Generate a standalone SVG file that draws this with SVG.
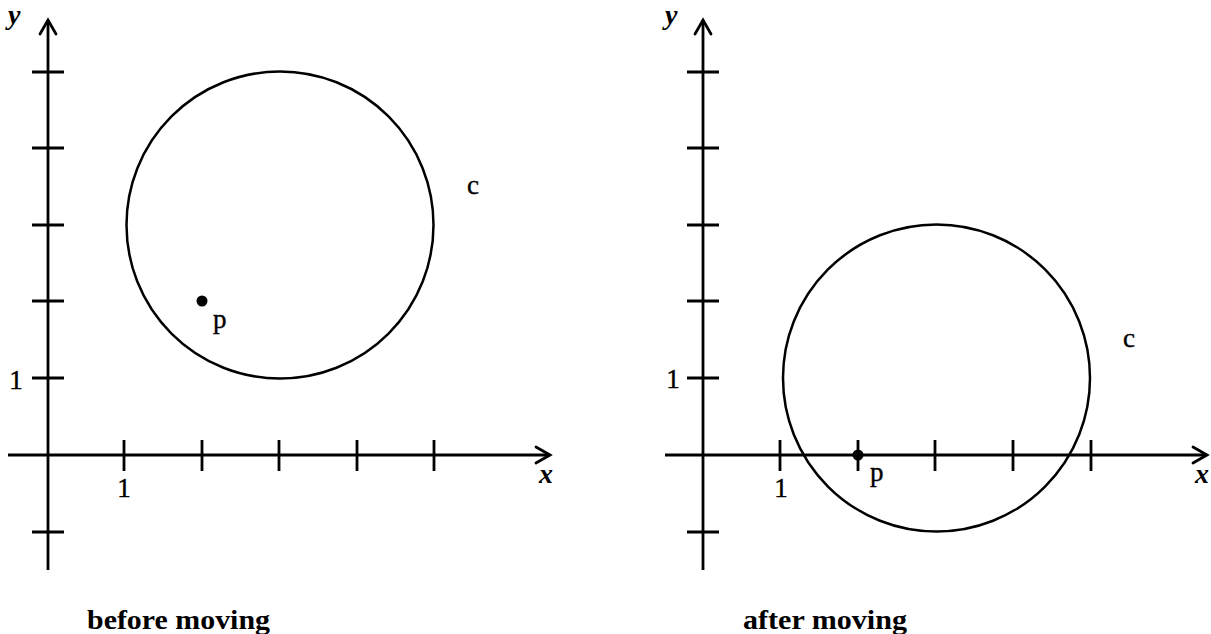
<svg xmlns="http://www.w3.org/2000/svg" width="1211" height="634" viewBox="0 0 1211 634">
  <defs>
    <style>
      .ax{stroke:#000;stroke-width:2.8;fill:none;stroke-linecap:butt}
      .ah{stroke:#000;stroke-width:2.8;fill:none;stroke-linejoin:miter;stroke-linecap:round}
      .circ{stroke:#000;stroke-width:2.5;fill:none}
      .lbl{font-family:"Liberation Serif",serif;font-size:27px;fill:#000;stroke:#000;stroke-width:0.4}
      .axl{font-family:"Liberation Serif",serif;font-size:28px;font-style:italic;font-weight:bold;fill:#000}
      .cap{font-family:"Liberation Serif",serif;font-size:27px;font-weight:bold;fill:#000}
    </style>
  </defs>
  <rect width="1211" height="634" fill="#fff"/>

  <g id="left-plot">
    <g id="left-axes">
      <line class="ax" x1="48" y1="20" x2="48" y2="570"/>
      <line class="ax" x1="8" y1="455" x2="550" y2="455"/>
      <polyline class="ah" points="40,34 48,20 56,34"/>
      <polyline class="ah" points="536,447 550,455 536,463"/>
      <path class="ax" d="M32 72H64M32 148H64M32 225H64M32 301H64M32 378H64M32 532H64"/>
      <path class="ax" d="M124 440V471M202 440V471M279 440V471M357 440V471M434 440V471"/>
    </g>
    <g id="left-circle"><circle class="circ" cx="280" cy="225" r="153.5"/></g>
    <g id="left-point"><circle cx="202" cy="301" r="5.5" fill="#000"/></g>
    <text class="axl" x="8" y="24">y</text>
    <text class="axl" x="539" y="483">x</text>
    <text class="lbl" x="16" y="389" text-anchor="middle">1</text>
    <text class="lbl" x="124" y="497" text-anchor="middle">1</text>
    <text class="lbl" x="213" y="328">p</text>
    <text class="lbl" x="467" y="194">c</text>
    <text class="cap" x="87" y="629" textLength="183" lengthAdjust="spacingAndGlyphs">before moving</text>
  </g>

  <g id="right-plot">
    <g id="right-axes">
      <line class="ax" x1="703" y1="20" x2="703" y2="570"/>
      <line class="ax" x1="665" y1="455" x2="1207" y2="455"/>
      <polyline class="ah" points="695,34 703,20 711,34"/>
      <polyline class="ah" points="1193,447 1207,455 1193,463"/>
      <path class="ax" d="M687 72H719M687 148H719M687 225H719M687 301H719M687 378H719M687 532H719"/>
      <path class="ax" d="M780 440V471M858 440V471M935 440V471M1013 440V471M1091 440V471"/>
    </g>
    <g id="right-circle"><circle class="circ" cx="936.5" cy="378" r="153.5"/></g>
    <g id="right-point"><circle cx="858" cy="455" r="5.5" fill="#000"/></g>
    <text class="axl" x="665" y="24">y</text>
    <text class="axl" x="1195" y="483">x</text>
    <text class="lbl" x="673" y="388" text-anchor="middle">1</text>
    <text class="lbl" x="781" y="497" text-anchor="middle">1</text>
    <text class="lbl" x="870" y="481">p</text>
    <text class="lbl" x="1123" y="347">c</text>
    <text class="cap" x="743" y="629" textLength="164" lengthAdjust="spacingAndGlyphs">after moving</text>
  </g>
</svg>
